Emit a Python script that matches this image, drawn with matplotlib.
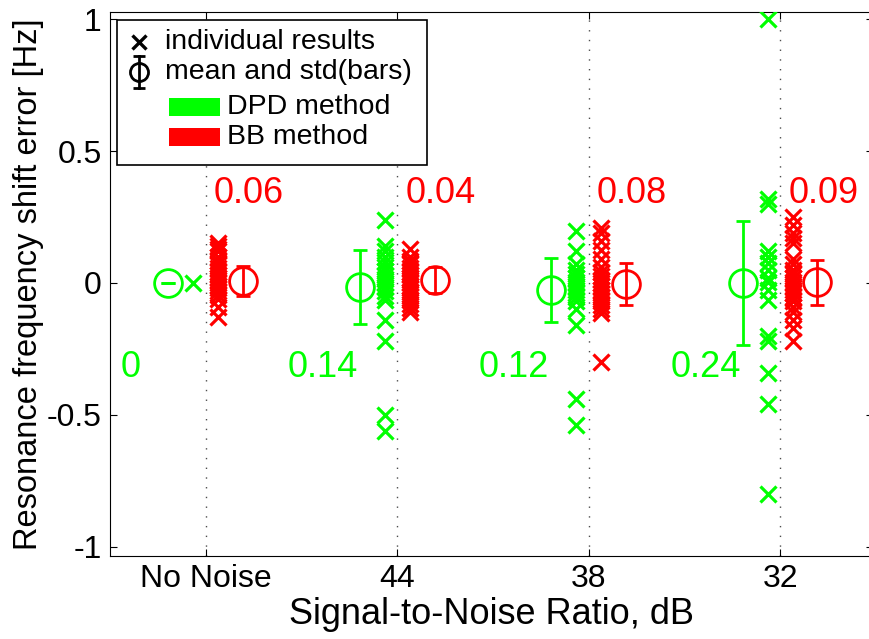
import matplotlib
matplotlib.use("Agg")
import matplotlib.pyplot as plt
from matplotlib.patches import Rectangle

plt.rcParams['font.family'] = ['Liberation Sans', 'DejaVu Sans']

# ---------------- data ----------------
categories = ['No Noise', '44', '38', '32']

dpd_points = [
    [0.0],
    [0.24, 0.14, 0.12, 0.10, 0.08, 0.06, 0.045, 0.03, 0.015, 0.0, -0.015, -0.03,
     -0.05, -0.065, -0.14, -0.22, -0.50, -0.56],
    [0.195, 0.12, 0.07, 0.05, 0.035, 0.02, 0.005, -0.01, -0.025, -0.04, -0.055,
     -0.07, -0.10, -0.16, -0.44, -0.54],
    [1.0, 0.32, 0.30, 0.12, 0.10, 0.075, 0.05, 0.02, 0.005, -0.025, -0.065,
     -0.20, -0.22, -0.34, -0.46, -0.80],
]
bb_points = [
    [0.15, 0.14, 0.13, 0.12, 0.10, 0.085, 0.07, 0.055, 0.04, 0.03, 0.02, 0.01,
     0.0, -0.01, -0.02, -0.03, -0.045, -0.06, -0.09, -0.13],
    [0.13, 0.10, 0.085, 0.07, 0.055, 0.04, 0.03, 0.02, 0.01, 0.0, -0.01, -0.02,
     -0.035, -0.05, -0.065, -0.08, -0.095, -0.11],
    [0.21, 0.19, 0.16, 0.125, 0.09, 0.06, 0.04, 0.025, 0.01, 0.0, -0.01, -0.025,
     -0.04, -0.055, -0.07, -0.085, -0.10, -0.115, -0.30],
    [0.25, 0.22, 0.19, 0.17, 0.15, 0.09, 0.07, 0.05, 0.035, 0.02, 0.005, -0.01,
     -0.025, -0.04, -0.055, -0.07, -0.09, -0.11, -0.14, -0.17, -0.22],
]
dpd_mean = [0.0, -0.015, -0.027, 0.0]
dpd_std = [0.0, 0.14, 0.12, 0.235]
bb_mean = [0.008, 0.01, -0.005, 0.002]
bb_std = [0.057, 0.05, 0.08, 0.085]
dpd_labels = ['0', '0.14', '0.12', '0.24']
bb_labels = ['0.06', '0.04', '0.08', '0.09']
ytick_values = [-1, -0.5, 0, 0.5, 1]
ytick_labels = ['-1', '-0.5', '0', '0.5', '1']

GREEN = '#00FF00'
RED = '#FF0000'

# ---------------- figure ----------------
fig = plt.figure(figsize=(8.7, 6.39), dpi=100)
ax = fig.add_axes([110 / 870, 1 - 556 / 639, 763 / 870, 544 / 639])

xpos = list(range(1, len(categories) + 1))
for i, x in enumerate(xpos):
    ax.plot([x - 0.065] * len(dpd_points[i]), dpd_points[i], 'x', color=GREEN,
            ms=11.5, mew=2.3, ls='none', zorder=3)
    ax.plot([x + 0.065] * len(bb_points[i]), bb_points[i], 'x', color=RED,
            ms=11.5, mew=2.3, ls='none', zorder=3)
    ax.errorbar([x - 0.195], [dpd_mean[i]], yerr=[dpd_std[i]], fmt='o', color=GREEN,
                mfc='none', ms=20, mew=2.0, elinewidth=2.0, capsize=4.8,
                capthick=2.0, zorder=3)
    ax.errorbar([x + 0.195], [bb_mean[i]], yerr=[bb_std[i]], fmt='o', color=RED,
                mfc='none', ms=20, mew=2.0, elinewidth=2.0, capsize=4.8,
                capthick=2.0, zorder=3)
    ax.text(x + 0.225, 0.34, bb_labels[i], color=RED, fontsize=26,
            ha='center', va='center')
    ax.text(x - 0.39, -0.32, dpd_labels[i], color=GREEN, fontsize=26,
            ha='center', va='center')

ax.set_xlim(0.5, 4.485)
ax.set_ylim(-1.035, 1.027)
ax.set_xticks(xpos)
ax.set_xticklabels(categories)
ax.set_yticks(ytick_values)
ax.set_yticklabels(ytick_labels)
ax.tick_params(direction='in', length=5, width=0.8, top=True, right=True,
               labelsize=23, pad=6)
ax.xaxis.grid(True, linestyle=(0, (1, 6)), color='0.3', linewidth=1.0)
ax.set_axisbelow(True)
for s in ax.spines.values():
    s.set_linewidth(0.8)

ax.set_xlabel('Signal-to-Noise Ratio, dB', fontsize=26, labelpad=2)
ax.set_ylabel('Resonance frequency shift error [Hz]', fontsize=23.5, labelpad=2)

# ---------------- legend (drawn manually) ----------------
T = ax.transAxes
ax.add_patch(Rectangle((0.0092, 0.7188), 0.4063, 0.2665, transform=T,
                       facecolor='white', edgecolor='black', linewidth=1.2,
                       zorder=5))
mx = 0.038
rows = [0.9449, 0.8897, 0.8254, 0.7702]
ax.plot([mx], [rows[0]], 'x', color='black', ms=10, mew=2.4, transform=T, zorder=6)
ax.plot([mx], [rows[1]], 'o', color='black', mfc='none', ms=13, mew=2.0,
        transform=T, zorder=6)
ax.plot([mx, mx], [rows[1] - 0.029, rows[1] + 0.029], '-', color='black',
        lw=2.0, transform=T, zorder=6)
ax.plot([mx, mx], [rows[1] - 0.029, rows[1] + 0.029], '_', color='black',
        ms=9, mew=2.0, transform=T, zorder=6)
ax.text(0.0721, rows[0], 'individual results', fontsize=20.5, va='center',
        ha='left', transform=T, zorder=6)
ax.text(0.0721, rows[1], 'mean and std(bars)', fontsize=20.5, va='center',
        ha='left', transform=T, zorder=6)
ax.add_patch(Rectangle((0.0773, rows[2] - 0.0165), 0.0669, 0.033, transform=T,
                       facecolor=GREEN, edgecolor='none', zorder=6))
ax.add_patch(Rectangle((0.0773, rows[3] - 0.0165), 0.0669, 0.033, transform=T,
                       facecolor=RED, edgecolor='none', zorder=6))
ax.text(0.1533, rows[2], 'DPD method', fontsize=20.5, va='center', ha='left',
        transform=T, zorder=6)
ax.text(0.1533, rows[3], 'BB method', fontsize=20.5, va='center', ha='left',
        transform=T, zorder=6)

fig.savefig('out.png', dpi=100)
